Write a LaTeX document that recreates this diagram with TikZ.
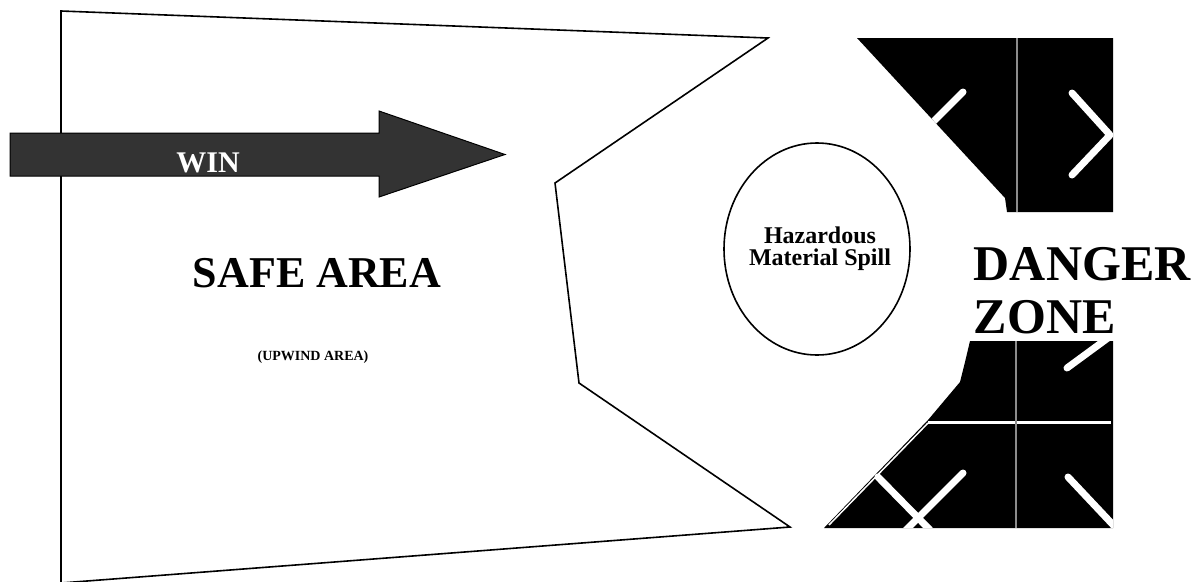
\documentclass[tikz,border=0pt]{standalone}
\usepackage{fontspec}
\setmainfont{Liberation Serif}
\usetikzlibrary{shapes.geometric}

\definecolor{windgray}{HTML}{333333}
\definecolor{rulegray}{HTML}{8C8C8C}

\begin{document}
\begin{tikzpicture}[x=1pt,y=-1pt,line width=1.6pt,
  label text/.style={inner sep=0pt,anchor=base,font=\bfseries},
  glyph/.style={white,line width=7pt,line cap=round,line join=round},
  divider/.style={rulegray,line width=2.5pt}]
  \useasboundingbox (0,0) rectangle (1196,581);
  % Corners of the safe area; the bottom left one lies below the page.
  \coordinate (TL) at (61,11);
  \coordinate (TR) at (768,38);
  \coordinate (NK) at (555,183);
  \coordinate (SK) at (579,383);
  \coordinate (BR) at (790,527);
  \coordinate (BL) at (61,583);
  \begin{scope}
    \clip (0,0) rectangle (1196,581);
    \draw (TL) -- (TR) -- (NK) -- (SK) -- (BR) -- (BL) -- cycle;
  \end{scope}
  % Wind arrow, drawn over the left edge.
  \filldraw[fill=windgray,draw=black,line width=1pt]
    (10,133) -- (379,133) -- (379,111) -- (505,154.5)
    -- (379,197) -- (379,176) -- (10,176) -- cycle;
  \node[label text,white,font=\bfseries\fontsize{30}{30}\selectfont] (win) at (208,172) {WIN};
  % Area labels.
  \node[label text,font=\bfseries\fontsize{44}{44}\selectfont] (safe) at (317,287) {SAFE AREA};
  \node[label text,font=\bfseries\fontsize{14}{14}\selectfont] (upwind) at (313,360) {(UPWIND AREA)};
  % The spill.
  \node[draw,ellipse,inner sep=0pt,minimum width=186pt,minimum height=212pt] (spill) at (817,249) {};
  \node[inner sep=0pt,align=center,font=\bfseries\fontsize{24}{22}\selectfont]
    (spilltext) at ([xshift=3pt]spill.center) {Hazardous\\Material Spill};
  \node[inner sep=0pt,anchor=north west,align=left,
    font=\bfseries\fontsize{50}{53}\selectfont] (danger) at (973,247) {DANGER\\ZONE};
  % Upper black block, its left side cut on the slant.
  \begin{scope}
    \clip (857,38) -- (1113,38) -- (1113,212) -- (1007,212) -- (1005,198) -- cycle;
    \fill (850,30) rectangle (1120,220);
    \draw[glyph] (925,130) -- (963,92);
    \draw[glyph] (1072,93) -- (1110,135) -- (1072,175);
  \end{scope}
  \draw[divider] (1017,38) -- (1017,212);
  % Lower black block.
  \begin{scope}
    \clip (970,341) -- (1113,341) -- (1113,528) -- (824,528) -- (928,420)
      -- (960,382) -- (965,362) -- cycle;
    \fill (820,335) rectangle (1120,535);
    \draw[glyph] (1067,368) -- (1112,335);
    \draw[glyph] (878,477) -- (932,532);
    \draw[glyph] (963,473) -- (904,532);
    \draw[glyph] (1068,477) -- (1116,528);
    \draw[white,line width=1.5pt] (829,525) -- (928,423);
  \end{scope}
  \draw[white,line width=3pt] (928,422) -- (1111,422);
  \draw[divider] (1016,341) -- (1016,528);
\end{tikzpicture}
\end{document}
